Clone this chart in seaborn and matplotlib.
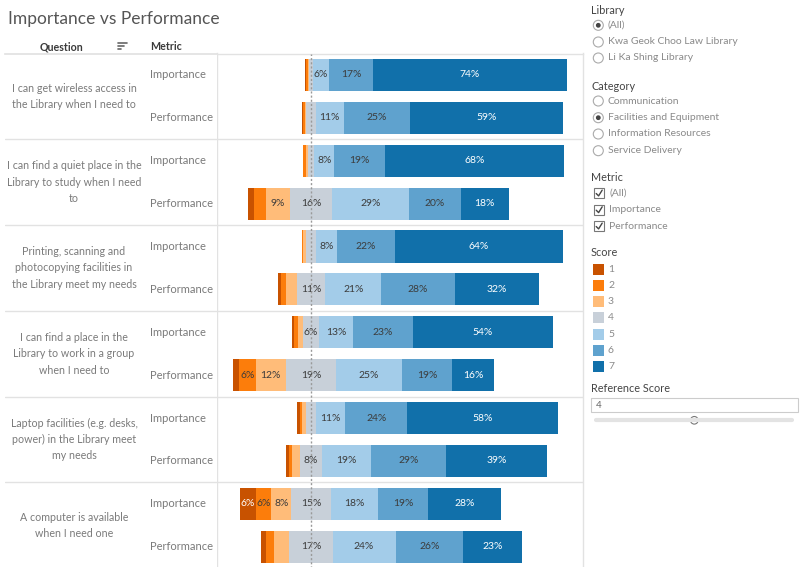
import numpy as np
import pandas as pd
import matplotlib.pyplot as plt
import seaborn as sns
from matplotlib.patches import Rectangle, Circle

# --- data ---
questions = [
    "I can get wireless access in\nthe Library when I need to",
    "I can find a quiet place in the\nLibrary to study when I need\nto",
    "Printing, scanning and\nphotocopying facilities in\nthe Library meet my needs",
    "I can find a place in the\nLibrary to work in a group\nwhen I need to",
    "Laptop facilities (e.g. desks,\npower) in the Library meet\nmy needs",
    "A computer is available\nwhen I need one",
]
metrics = ["Importance", "Performance"]
scores = [1, 2, 3, 4, 5, 6, 7]
score_colors = ["#c85200", "#fc7d0b", "#ffbc79", "#c8d0d9", "#a3cce9", "#5fa2ce", "#1170aa"]
ref_score = 4

# % of responses for scores 1..7
imp_pct = [
    [0.2, 0.6, 0.4, 1.8, 6.0, 17.0, 74.0],
    [0.2, 1.0, 0.8, 2.4, 7.8, 19.4, 68.4],
    [0.1, 0.5, 1.0, 3.8, 7.9, 22.4, 64.3],
    [0.9, 1.6, 1.8, 6.0, 13.2, 22.9, 53.6],
    [0.9, 0.9, 1.4, 4.1, 11.1, 23.6, 58.0],
    [6.1, 5.9, 7.6, 15.2, 18.1, 19.1, 28.0],
]
perf_pct = [
    [0.2, 0.8, 0.6, 3.6, 10.8, 25.2, 58.8],
    [2.3, 4.5, 9.2, 16.4, 29.3, 19.9, 18.4],
    [1.1, 1.9, 4.1, 11.0, 21.4, 28.2, 32.3],
    [2.4, 6.3, 11.6, 19.2, 25.3, 19.3, 15.9],
    [0.9, 1.3, 3.0, 8.4, 18.8, 28.6, 39.0],
    [1.9, 3.1, 5.7, 16.6, 24.1, 26.0, 22.6],
]

# long table: one line per bar segment, centred so score 4 straddles 0
recs = []
row_keys = []
for qi in range(len(questions)):
    for m, table in zip(metrics, [imp_pct, perf_pct]):
        key = f"{qi}-{m}"
        row_keys.append(key)
        v = np.array(table[qi])
        r = ref_score - 1
        start = -(v[:r].sum() + v[r] / 2)
        lefts = start + np.concatenate([[0], np.cumsum(v)[:-1]])
        for s, val, l in zip(scores, v, lefts):
            recs.append(dict(row=key, score=s, pct=val, left=l, right=l + val))
df = pd.DataFrame(recs)

sns.set_theme(style="white")
plt.rcParams["font.family"] = ["Lato", "DejaVu Sans"]

W, H = 800, 567
fig = plt.figure(figsize=(W / 100, H / 100), dpi=100)
top = 53.5
ax = fig.add_axes([217 / W, -1.2 / H, 366 / W, (H - top + 1.2) / H])
lab = fig.add_axes([5 / W, -1.2 / H, 212 / W, (H - top + 1.2) / H])

# draw the stacks as overlapping bars from 0 outwards
ri = ref_score - 1
for k in range(len(scores) - 1, ri - 1, -1):
    sub = df[df.score == scores[k]]
    sns.barplot(data=sub, x="right", y="row", order=row_keys, orient="h",
                color=score_colors[k], saturation=1, width=0.75,
                errorbar=None, linewidth=0, ax=ax)
for k in range(0, ri + 1):
    sub = df[df.score == scores[k]]
    sns.barplot(data=sub, x="left", y="row", order=row_keys, orient="h",
                color=score_colors[k], saturation=1, width=0.75,
                errorbar=None, linewidth=0, ax=ax)

for _, rec in df.iterrows():
    if rec.pct >= 5.8:
        yi = row_keys.index(rec.row)
        tc = "white" if rec.score in (1, 7) else "#3c3c3c"
        ax.text((rec.left + rec.right) / 2, yi, f"{rec.pct:.0f}%", ha="center",
                va="center", fontsize=7.5, color=tc)

ax.axvline(0, color="#9a9a9a", lw=1, ls=(0, (1.5, 1.5)), zorder=5)
ax.set_xlim(-36, 104.2)
ax.set_ylim(len(row_keys) - 0.5, -0.5)
ax.set_xlabel("")
ax.set_ylabel("")
ax.set_xticks([])
ax.set_yticks([])
for sp in ["top", "left", "right"]:
    ax.spines[sp].set_color("#e2e2e2")
    ax.spines[sp].set_linewidth(1)
ax.spines["bottom"].set_visible(False)

# row labels
lab.set_xlim(5, 217)
lab.set_ylim(len(row_keys) - 0.5, -0.5)
lab.set_xticks([])
lab.set_yticks([])
for sp in ["left", "right", "bottom"]:
    lab.spines[sp].set_visible(False)
lab.spines["top"].set_color("#e2e2e2")
for qi, q in enumerate(questions):
    lab.text(74, qi * 2 + 0.5, q, ha="center", va="center", fontsize=7.7,
             color="#7a7a7a", linespacing=1.6)
    for mi, m in enumerate(metrics):
        lab.text(150, qi * 2 + mi, m, ha="left", va="center", fontsize=8, color="#7a7a7a")
for b in np.arange(1.5, len(row_keys) - 1, 2):
    lab.axhline(b, color="#e2e2e2", lw=1)
    ax.axhline(b, color="#e2e2e2", lw=1)

# --- header, title and the filter panel (pixel coords) ---
ui = fig.add_axes([0, 0, 1, 1])
ui.set_xlim(0, W)
ui.set_ylim(H, 0)
ui.axis("off")

ui.text(8, 19, "Importance vs Performance", fontsize=12.5, color="#555555", va="center")
ui.text(62, 46.5, "Question", fontsize=7.7, color="#3a3a3a", ha="center", va="center", weight="bold")
ui.text(150, 46.5, "Metric", fontsize=7.7, color="#3a3a3a", ha="left", va="center", weight="bold")
for yy, x2 in [(43, 127), (46, 124), (49, 121)]:
    ui.plot([118, x2], [yy, yy], color="#666666", lw=1.2)

hdr_c, item_c = "#444444", "#8a8a8a"


def radio(y, text, on=False):
    ui.add_patch(Circle((598.3, y), 5, fc="white", ec="#aaaaaa", lw=0.8))
    if on:
        ui.add_patch(Circle((598.3, y), 2.4, fc="#444444", ec="none"))
    ui.text(607.7, y, text, fontsize=7.5, color=item_c, va="center")


def check(y, text):
    ui.add_patch(Rectangle((594, y - 5), 10, 10, fc="white", ec="#777777", lw=0.8))
    ui.plot([596.2, 598.6, 602.2], [y + 0.2, y + 2.6, y - 3.2], color="#444444", lw=1)
    ui.text(609.5, y, text, fontsize=7.5, color=item_c, va="center")


ui.text(591, 10, "Library", fontsize=7.8, color=hdr_c, va="center")
radio(25.3, "(All)", True)
radio(42, "Kwa Geok Choo Law Library")
radio(58, "Li Ka Shing Library")

ui.text(591, 86, "Category", fontsize=7.8, color=hdr_c, va="center")
radio(101, "Communication")
radio(117.7, "Facilities and Equipment", True)
radio(134, "Information Resources")
radio(150.7, "Service Delivery")

ui.text(591, 177.3, "Metric", fontsize=7.8, color=hdr_c, va="center")
check(193.3, "(All)")
check(210, "Importance")
check(226.3, "Performance")

ui.text(591, 252.7, "Score", fontsize=7.8, color=hdr_c, va="center")
for i, (s, c) in enumerate(zip(scores, score_colors)):
    y = 269.3 + i * 16.23
    ui.add_patch(Rectangle((592.5, y - 5.5), 11, 11, fc=c, ec="none"))
    ui.text(608, y, str(s), fontsize=7.5, color=item_c, va="center")

ui.text(591, 389, "Reference Score", fontsize=7.8, color=hdr_c, va="center")
ui.add_patch(Rectangle((591, 398), 207, 13.5, fc="white", ec="#cccccc", lw=0.8))
ui.text(595.5, 405, str(ref_score), fontsize=7, color="#666666", va="center")
ui.plot([596, 792], [420.3, 420.3], color="#e3e3e3", lw=3, solid_capstyle="round")
ui.add_patch(Circle((694.3, 420.3), 3.8, fc="white", ec="#777777", lw=0.8))

fig.savefig("out.png", dpi=100)
